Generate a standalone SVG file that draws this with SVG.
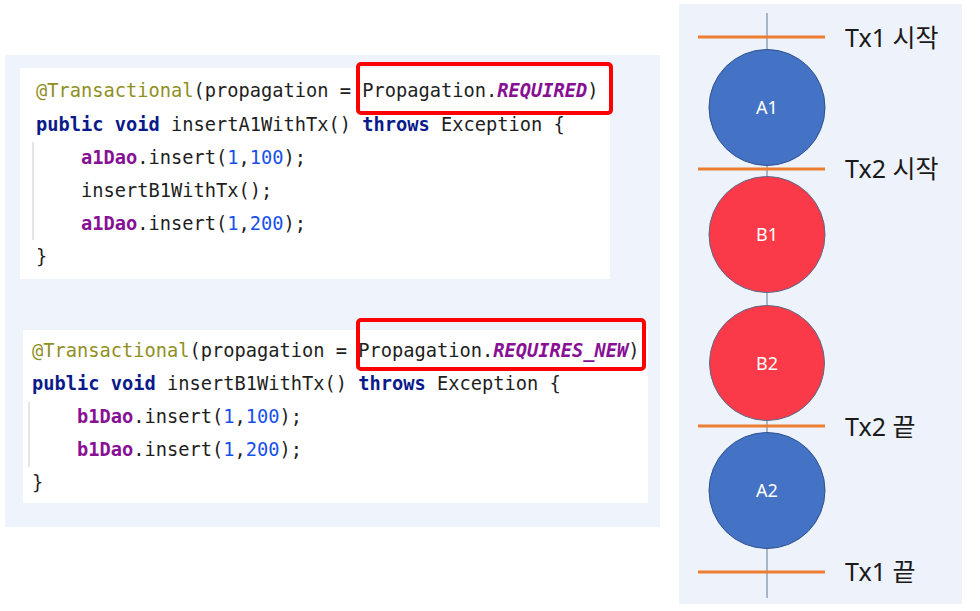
<svg xmlns="http://www.w3.org/2000/svg" width="980" height="611" viewBox="0 0 980 611">
<style>
.code{font-family:"DejaVu Sans Mono","Liberation Mono",monospace;font-size:18.7px;fill:#1e1e1e}
.ann{fill:#8f8f22}
.kw{fill:#0a1a8a;font-weight:bold}
.fld{fill:#871094;font-weight:bold}
.num{fill:#1750eb}
.const{fill:#871094;font-weight:bold;font-style:italic}
.hl{fill:none;stroke:#ff0000;stroke-width:4}
.guide{stroke:#dcdcdc;stroke-width:1.5}
.orange{stroke:#ed7d31;stroke-width:3}
.axis{stroke:#8ea0b8;stroke-width:1.5}
.cA{fill:#4472c4;stroke:#2f528f;stroke-width:1}
.cB{fill:#fa3a48;stroke:#5a6a8a;stroke-width:1}
.clbl{font-family:"Noto Sans","Liberation Sans",sans-serif;font-size:18px;fill:#ffffff;text-anchor:middle}
.tx{font-family:"Noto Sans","Noto Sans CJK KR",sans-serif;font-size:25px;fill:#1a1a1a}
</style>
<rect width="980" height="611" fill="#ffffff"/>
<!-- left panel -->
<rect x="5" y="55" width="655" height="472" fill="#eef3fc"/>
<g id="code1">
<rect x="20" y="68" width="590" height="211" fill="#ffffff"/>
<line class="guide" x1="33" y1="142" x2="33" y2="240"/>
<text class="code" x="36" y="97"><tspan class="ann">@Transactional</tspan>(propagation = Propagation.<tspan class="const">REQUIRED</tspan>)</text>
<text class="code" x="36" y="131"><tspan class="kw">public void</tspan> insertA1WithTx() <tspan class="kw">throws</tspan> Exception {</text>
<text class="code" x="81" y="164"><tspan class="fld">a1Dao</tspan>.insert(<tspan class="num">1</tspan>,<tspan class="num">100</tspan>);</text>
<text class="code" x="81" y="197">insertB1WithTx();</text>
<text class="code" x="81" y="230"><tspan class="fld">a1Dao</tspan>.insert(<tspan class="num">1</tspan>,<tspan class="num">200</tspan>);</text>
<text class="code" x="36" y="263">}</text>
<rect class="hl" x="358" y="64" width="253" height="49" rx="3"/>
</g>
<g id="code2">
<rect x="23" y="330" width="625" height="173" fill="#ffffff"/>
<line class="guide" x1="29" y1="402" x2="29" y2="467"/>
<text class="code" x="32" y="357"><tspan class="ann">@Transactional</tspan>(propagation = Propagation.<tspan class="const">REQUIRES_NEW</tspan>)</text>
<text class="code" x="32" y="390"><tspan class="kw">public void</tspan> insertB1WithTx() <tspan class="kw">throws</tspan> Exception {</text>
<text class="code" x="77" y="423"><tspan class="fld">b1Dao</tspan>.insert(<tspan class="num">1</tspan>,<tspan class="num">100</tspan>);</text>
<text class="code" x="77" y="456"><tspan class="fld">b1Dao</tspan>.insert(<tspan class="num">1</tspan>,<tspan class="num">200</tspan>);</text>
<text class="code" x="32" y="489">}</text>
<rect class="hl" x="358" y="320" width="286" height="49" rx="3"/>
</g>
<!-- right panel -->
<rect x="679" y="4" width="283" height="600" fill="#eef2fb"/>
<g id="connectors">
<line class="axis" x1="767" y1="13" x2="767" y2="598"/>
</g>
<g id="tx-markers">
<line class="orange" x1="698" y1="37" x2="825" y2="37"/>
<line class="orange" x1="698" y1="169" x2="825" y2="169"/>
<line class="orange" x1="698" y1="426" x2="825" y2="426"/>
<line class="orange" x1="698" y1="572" x2="825" y2="572"/>
</g>
<g id="A1"><circle class="cA" cx="767" cy="107.5" r="58"/><text class="clbl" x="767" y="114">A1</text></g>
<g id="B1"><circle class="cB" cx="767" cy="234.5" r="58"/><text class="clbl" x="767" y="241">B1</text></g>
<g id="B2"><circle class="cB" cx="767" cy="363" r="57.5"/><text class="clbl" x="767" y="370">B2</text></g>
<g id="A2"><circle class="cA" cx="767" cy="490.5" r="58"/><text class="clbl" x="767" y="497">A2</text></g>
<g id="labels">
<text class="tx" x="845" y="47">Tx1 시작</text>
<text class="tx" x="845" y="178">Tx2 시작</text>
<text class="tx" x="845" y="436">Tx2 끝</text>
<text class="tx" x="845" y="581">Tx1 끝</text>
</g>
</svg>
